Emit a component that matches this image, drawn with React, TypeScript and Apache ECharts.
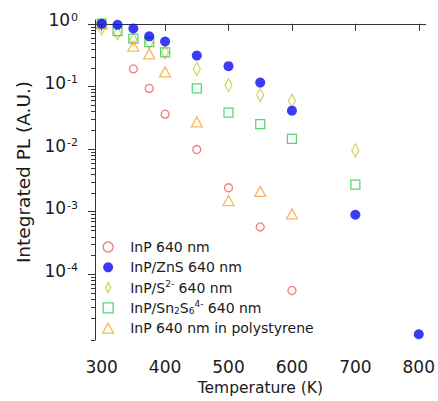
import React, { useEffect, useRef } from "react";
import * as echarts from "echarts";

// ---- data ----
const inpT = [300, 350, 375, 400, 450, 500, 550, 600];
const inpV = [1.0, 0.19, 0.093, 0.036, 0.0098, 0.0024, 0.00057, 0.000055];

const znsT = [300, 325, 350, 375, 400, 450, 500, 550, 600, 700, 800];
const znsV = [1.0, 0.96, 0.84, 0.63, 0.52, 0.31, 0.21, 0.115, 0.041, 0.00089, 0.000011];

const s2T = [300, 325, 350, 375, 400, 450, 500, 550, 600, 700];
const s2V = [0.85, 0.7, 0.56, 0.5, 0.35, 0.19, 0.105, 0.073, 0.059, 0.0095];

const snT = [300, 325, 350, 375, 400, 450, 500, 550, 600, 700];
const snV = [1.0, 0.76, 0.58, 0.51, 0.35, 0.093, 0.038, 0.025, 0.0145, 0.0027];

const psT = [300, 350, 375, 400, 450, 500, 550, 600];
const psV = [1.0, 0.44, 0.33, 0.17, 0.027, 0.0015, 0.0021, 0.00092];

const xTicks = [300, 400, 500, 600, 700, 800];
const yDecades = [-4, -3, -2, -1, 0];
const minorMultipliers = [2, 3, 4, 5, 6, 7, 8, 9];

const seriesNames = [
  "InP 640 nm",
  "InP/ZnS 640 nm",
  "InP/S2- 640 nm",
  "InP/Sn2S64- 640 nm",
  "InP 640 nm in polystyrene",
];
const legendRich: Record<string, string> = {
  "InP 640 nm": "InP 640 nm",
  "InP/ZnS 640 nm": "InP/ZnS 640 nm",
  "InP/S2- 640 nm": "InP/S{sup|2-} 640 nm",
  "InP/Sn2S64- 640 nm": "InP/Sn{sub|2}S{sub|6}{sup|4-} 640 nm",
  "InP 640 nm in polystyrene": "InP 640 nm in polystyrene",
};

const FONT = "DejaVu Sans";
const X_MIN = 289.5;
const X_MAX = 811;
const Y_MIN = -5.05;
const Y_MAX = 0.06;

function toPts(t: number[], v: number[]) {
  return t.map((x, i) => [x, Math.log10(v[i])]);
}

export default function App() {
  const ref = useRef<HTMLDivElement>(null);
  useEffect(() => {
    if (!ref.current) return;
    document.body.style.margin = "0";
    const chart = echarts.init(ref.current, undefined, { renderer: "svg" });

    const minorTicks: number[][] = [];
    for (let d = -6; d <= 0; d++) {
      for (const k of minorMultipliers) {
        const v = d + Math.log10(k);
        if (v > Y_MIN && v < Y_MAX) minorTicks.push([X_MIN, v]);
      }
    }

    const hollow = (c: string) => ({
      color: "rgba(0,0,0,0)",
      borderColor: c,
      borderWidth: 1.3,
    });

    const option: any = {
      animation: false,
      backgroundColor: "#fff",
      textStyle: { fontFamily: FONT },
      grid: { left: 95, right: 11, top: 20, bottom: 54 },
      xAxis: {
        type: "value",
        min: X_MIN,
        max: X_MAX,
        name: "Temperature (K)",
        nameLocation: "middle",
        nameGap: 40,
        nameTextStyle: { fontSize: 15.5, color: "#1a1a1a", fontFamily: FONT },
        axisLine: { show: true, lineStyle: { color: "#333", width: 1 } },
        axisTick: { show: true, length: 7, customValues: xTicks, lineStyle: { color: "#333" } },
        axisLabel: {
          customValues: xTicks,
          fontSize: 17,
          color: "#1a1a1a",
          margin: 18,
          fontFamily: FONT,
        },
        splitLine: { show: false },
      },
      yAxis: {
        type: "value",
        min: Y_MIN,
        max: Y_MAX,
        name: "Integrated PL (A.U.)",
        nameLocation: "middle",
        nameGap: 62,
        nameTextStyle: {
          fontSize: 18.5,
          color: "#1a1a1a",
          fontFamily: FONT,
          padding: [0, 0, 0, 16],
        },
        axisLine: { show: true, lineStyle: { color: "#333", width: 1 } },
        axisTick: { show: true, length: 7, customValues: yDecades, lineStyle: { color: "#333", width: 1 } },
        axisLabel: {
          customValues: yDecades,
          margin: 17,
          color: "#1a1a1a",
          padding: [0, 0, 7, 0],
          formatter: (v: number) => `{b|10}{s|${Math.round(v)}}`,
          rich: {
            b: { fontSize: 17, lineHeight: 17, verticalAlign: "bottom", fontFamily: FONT, color: "#1a1a1a" },
            s: {
              fontSize: 11,
              lineHeight: 11,
              verticalAlign: "top",
              padding: [0, 0, 16, 1],
              fontFamily: FONT,
              color: "#1a1a1a",
            },
          },
        },
        splitLine: { show: false },
      },
      legend: {
        orient: "vertical",
        left: 102,
        top: 239,
        itemWidth: 34,
        itemHeight: 10,
        itemGap: 4.3,
        padding: 0,
        selectedMode: false,
        symbolKeepAspect: true,
        itemStyle: { borderWidth: 1.3 },
        data: [
          { name: seriesNames[0], icon: "circle" },
          { name: seriesNames[1], icon: "circle" },
          { name: seriesNames[2], icon: "path://M3,0L6,6L3,12L0,6Z" },
          { name: seriesNames[3], icon: "path://M0,0L9,0L9,9L0,9Z" },
          { name: seriesNames[4], icon: "path://M5.5,0L11,10L0,10Z" },
        ],
        formatter: (name: string) => legendRich[name] || name,
        textStyle: {
          fontSize: 14,
          lineHeight: 16,
          color: "#1a1a1a",
          fontFamily: FONT,
          rich: {
            sup: { fontSize: 9, lineHeight: 9, verticalAlign: "top", fontFamily: FONT, color: "#1a1a1a" },
            sub: { fontSize: 9, lineHeight: 9, verticalAlign: "bottom", fontFamily: FONT, color: "#1a1a1a" },
          },
        },
      },
      series: [
        {
          name: "minor ticks",
          type: "custom",
          silent: true,
          clip: false,
          data: minorTicks,
          encode: { x: 0, y: 1 },
          renderItem: (params: any, api: any) => {
            const p = api.coord([api.value(0), api.value(1)]);
            const y = Math.round(p[1]) + 0.5;
            return {
              type: "line",
              shape: { x1: p[0] - 4, y1: y, x2: p[0], y2: y },
              style: { stroke: "#333", lineWidth: 1 },
            };
          },
          z: 5,
        },
        {
          name: seriesNames[0],
          type: "scatter",
          symbol: "circle",
          symbolSize: 8,
          itemStyle: hollow("#ef5b5b"),
          data: toPts(inpT, inpV),
          z: 2,
        },
        {
          name: seriesNames[2],
          type: "scatter",
          symbol: "diamond",
          symbolSize: [7, 13],
          itemStyle: hollow("#c9c83a"),
          data: toPts(s2T, s2V),
          z: 2,
        },
        {
          name: seriesNames[3],
          type: "scatter",
          symbol: "rect",
          symbolSize: 9,
          itemStyle: hollow("#33c85a"),
          data: toPts(snT, snV),
          z: 2,
        },
        {
          name: seriesNames[4],
          type: "scatter",
          symbol: "triangle",
          symbolSize: [11, 10],
          itemStyle: hollow("#f5a53a"),
          data: toPts(psT, psV),
          z: 2,
        },
        {
          name: seriesNames[1],
          type: "scatter",
          symbol: "circle",
          symbolSize: 10,
          itemStyle: { color: "#0a0af0", borderWidth: 0 },
          data: toPts(znsT, znsV),
          z: 3,
        },
      ],
    };
    chart.setOption(option);
    return () => chart.dispose();
  }, []);

  return <div ref={ref} style={{ width: 438, height: 401 }} />;
}
